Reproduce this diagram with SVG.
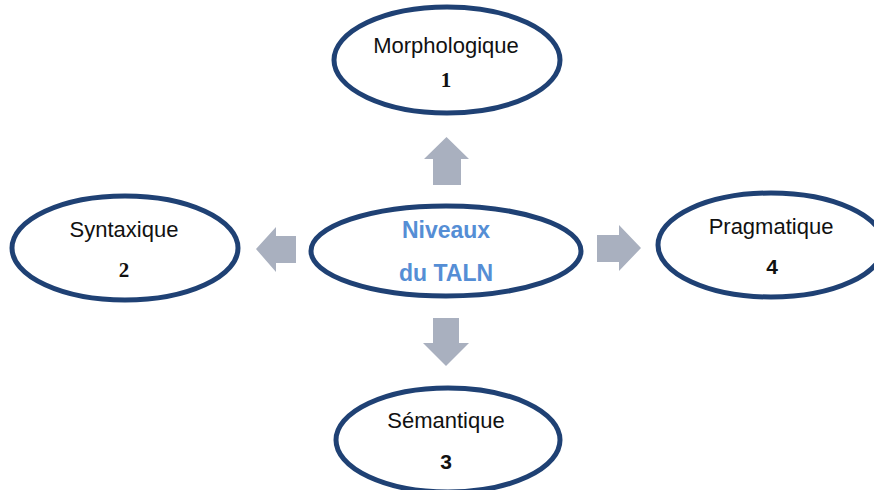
<svg xmlns="http://www.w3.org/2000/svg" width="874" height="490" viewBox="0 0 874 490">
  <style>
    .oval { fill: #ffffff; stroke: #1f4174; stroke-width: 5; }
    .label { font-family: "Liberation Sans", Arial, sans-serif; font-size: 22px; fill: #111111; text-anchor: middle; }
    .numSerif { font-family: "Liberation Serif", "Times New Roman", serif; font-weight: bold; font-size: 21px; fill: #111111; text-anchor: middle; }
    .numSans { font-family: "Liberation Sans", Arial, sans-serif; font-weight: bold; font-size: 21px; fill: #111111; text-anchor: middle; }
    .title { font-family: "Liberation Sans", Arial, sans-serif; font-weight: bold; font-size: 23px; fill: #558ed5; text-anchor: middle; }
    .arrow { fill: #a9b0bf; }
  </style>
  <rect width="874" height="490" fill="#ffffff"/>

  <!-- block arrows from the centre to each level -->
  <g id="connectors">
    <polygon class="arrow" points="433,185 433,159 424,159 446.5,137 469,159 461,159 461,185"/>
    <polygon class="arrow" points="433,318 433,343 423,343 446,366 469,343 459,343 459,318"/>
    <polygon class="arrow" points="296,236 276,236 276,227 256,249 276,272 276,263 296,263"/>
    <polygon class="arrow" points="597,235 619,235 619,225 641,248 619,271 619,262 597,262"/>
  </g>

  <g id="centre">
    <ellipse class="oval" cx="446" cy="251" rx="135" ry="45"/>
    <text class="title" x="446" y="238">Niveaux</text>
    <text class="title" x="446" y="281">du TALN</text>
  </g>

  <g id="morphologique">
    <ellipse class="oval" cx="447" cy="60" rx="113" ry="53"/>
    <text class="label" x="446" y="53">Morphologique</text>
    <text class="numSerif" x="446" y="87">1</text>
  </g>

  <g id="syntaxique">
    <ellipse class="oval" cx="125" cy="248" rx="113" ry="52"/>
    <text class="label" x="124" y="237">Syntaxique</text>
    <text class="numSerif" x="124" y="277">2</text>
  </g>

  <g id="semantique">
    <ellipse class="oval" cx="448" cy="440" rx="112" ry="52"/>
    <text class="label" x="446" y="428">Sémantique</text>
    <text class="numSans" x="446" y="469">3</text>
  </g>

  <g id="pragmatique">
    <ellipse class="oval" cx="771" cy="245" rx="113" ry="52"/>
    <text class="label" x="771" y="234">Pragmatique</text>
    <text class="numSans" x="772" y="274">4</text>
  </g>
</svg>
